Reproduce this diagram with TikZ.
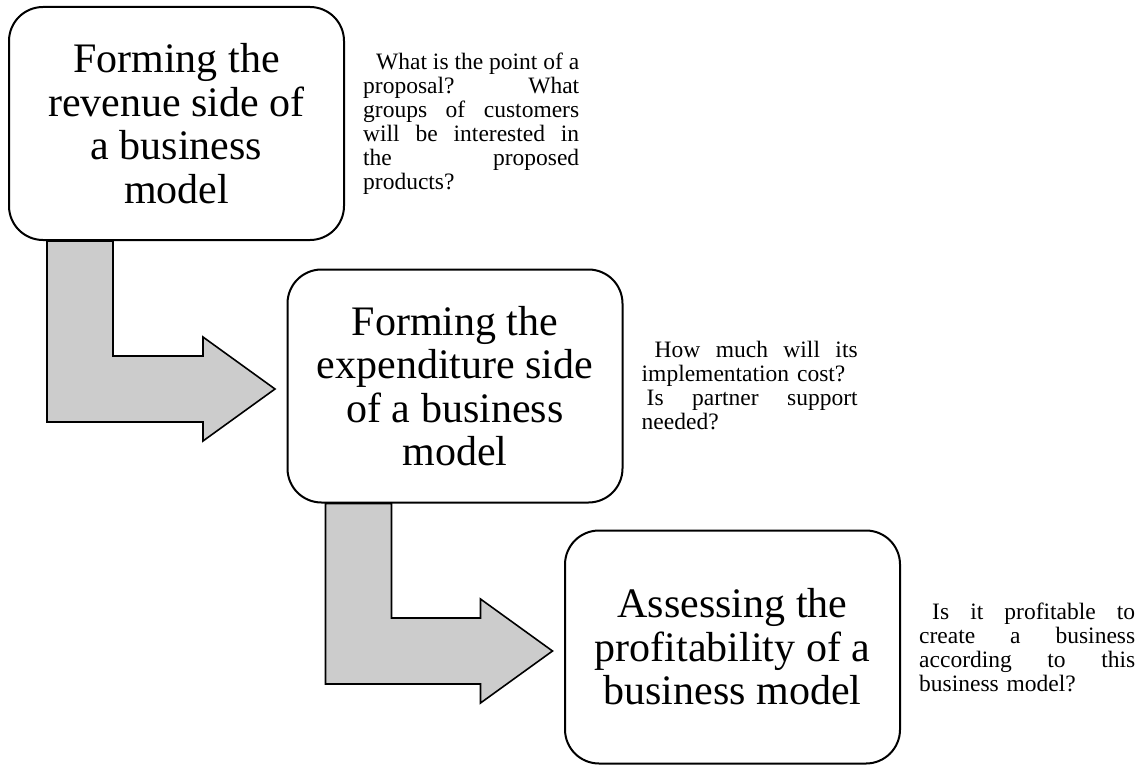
\documentclass[tikz,border=0pt]{standalone}
\usepackage{fontspec}
\setmainfont{Liberation Serif}
\usetikzlibrary{calc,backgrounds}
% one fully justified line of the side notes (spaces allowed to stretch)
\newcommand{\jline}[1]{\makebox[216pt][s]{\spaceskip=0pt\xspaceskip=0pt #1}}
\begin{document}
\begin{tikzpicture}[x=1pt,y=-1pt,
  stagebox/.style={draw=black, line width=2pt, rounded corners=34pt, fill=white,
    minimum width=335pt, minimum height=233pt, align=center, inner sep=0pt,
    font=\fontsize{42}{43.5}\selectfont},
  note/.style={anchor=west, inner sep=0pt, text width=216pt, align=left,
    font=\fontsize{23.5}{24}\selectfont},
  bentarrow/.style={draw=black, line width=1.6pt, fill=black!20, line join=miter}]
\useasboundingbox (0,0) rectangle (1139,765);

% the three stages
\node[stagebox] (b1) at (176.5,123.5) {Forming the\\revenue side of\\a business\\model};
\node[stagebox] (b2) at (455,386) {Forming the\\expenditure side\\of a business\\model};
\node[stagebox] (b3) at (732.5,647) {Assessing the\\profitability of a\\business model};

% questions beside each stage
\node[note] (n1) at ($(b1.east)+(18,0)$) {\jline{\hspace*{13pt}What is the point of a}\\
  \jline{proposal? What}\\ \jline{groups of customers}\\ \jline{will be interested in}\\
  \jline{the proposed}\\ products?};
\node[note] (n2) at ($(b2.east)+(18,0)$) {\jline{\hspace*{13pt}How much will its}\\
  implementation cost?\\ \jline{\hspace*{5pt}Is partner support}\\ needed?};
\node[note] (n3) at ($(b3.east)+(18,0)$) {\jline{\hspace*{13pt}Is it profitable to}\\
  \jline{create a business}\\ \jline{according to this}\\ business model?};

% bent block arrows leading from one stage to the next
\coordinate (s1l) at ($(b1.south west)+(39,0)$);
\coordinate (s1r) at ($(b1.south west)+(105,0)$);
\coordinate (t1) at ($(b2.west)+(-11.5,3)$);
\coordinate (s2l) at ($(b2.south west)+(39,0)$);
\coordinate (s2r) at ($(b2.south west)+(105,0)$);
\coordinate (t2) at ($(b3.west)+(-11.5,4)$);
\begin{scope}[on background layer]
  \fill[white] (0,0) rectangle (1139,765);
  \draw[bentarrow] (s1l) |- ($(t1)+(-72,33)$) -- ++(0,19) -- (t1) -- ++(-72,-52)
    -- ++(0,19) -| (s1r) -- cycle;
  \draw[bentarrow] (s2l) |- ($(t2)+(-72,33)$) -- ++(0,19) -- (t2) -- ++(-72,-52)
    -- ++(0,19) -| (s2r) -- cycle;
\end{scope}
\end{tikzpicture}
\end{document}
